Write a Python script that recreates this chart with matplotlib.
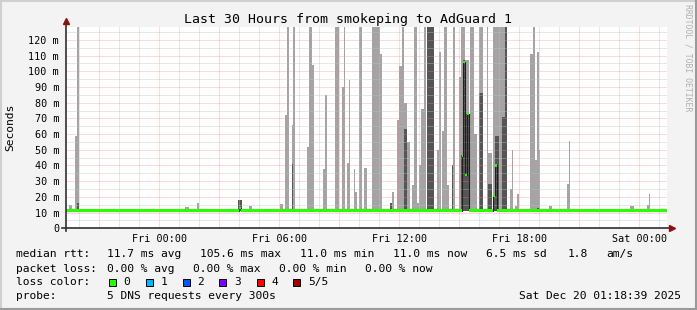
import matplotlib
matplotlib.use('Agg')
import matplotlib.pyplot as plt
import numpy as np
from matplotlib.ticker import MultipleLocator, FuncFormatter
from matplotlib.patches import Rectangle
from matplotlib.lines import Line2D

plt.rcParams['font.family'] = ['DejaVu Sans Mono']

# time in hours relative to Fri 00:00, values in ms
t_start, t_end = -4.665, 25.36

spike_start = [-4.50, -4.215, -4.10, 0.535, 1.285, 1.87, 3.95, 4.50, 6.035, 6.285,
               6.385, 6.62, 6.70, 7.37, 7.50, 7.62, 8.20, 8.30, 8.785, 9.135,
               9.235, 9.37, 9.47, 9.735, 9.80, 9.985, 10.235, 10.635, 11.035, 11.535,
               11.635, 11.87, 12.00, 12.135, 12.235, 12.37, 12.62, 12.75, 12.87, 13.00,
               13.10, 13.235, 13.37, 13.87, 14.00, 14.12, 14.235, 14.37, 14.62, 14.70,
               14.97, 15.07, 15.17, 15.285, 15.385, 15.535, 15.735, 16.00, 16.37, 16.45,
               16.67, 16.785, 16.985, 17.12, 17.285, 17.535, 17.635, 17.785, 17.885, 18.535,
               18.67, 18.785, 18.885, 18.985, 19.50, 20.37, 20.50, 23.535, 24.37, 24.47]
spike_end = [-4.36, -4.10, -4.015, 0.62, 1.47, 2.00, 4.12, 4.62, 6.20, 6.385,
             6.485, 6.70, 6.80, 7.50, 7.62, 7.735, 8.30, 8.385, 8.97, 9.235,
             9.30, 9.47, 9.535, 9.80, 9.90, 10.12, 10.37, 11.035, 11.135, 11.635,
             11.735, 12.00, 12.135, 12.235, 12.37, 12.535, 12.75, 12.87, 13.00, 13.10,
             13.235, 13.335, 13.735, 14.00, 14.07, 14.235, 14.37, 14.50, 14.70, 14.80,
             15.07, 15.17, 15.285, 15.385, 15.485, 15.735, 15.885, 16.17, 16.45, 16.635,
             16.785, 16.985, 17.12, 17.285, 17.40, 17.635, 17.70, 17.885, 18.00, 18.67,
             18.785, 18.885, 18.985, 19.05, 19.62, 20.50, 20.55, 23.735, 24.47, 24.535]
# outer smoke (max ping), 140 = off the top of the graph
smoke_max = [14.8, 58.8, 140, 12.5, 13.5, 16, 18, 14.4, 15.3, 72,
             140, 66, 140, 52, 140, 104, 37.8, 85, 140, 90,
             140, 41.8, 94.5, 37.8, 23, 140, 38.6, 140, 111, 16,
             23, 69, 103.6, 140, 80, 55, 27.6, 140, 16, 40,
             76, 140, 140, 50, 112, 62, 140, 27.6, 40, 140,
             96.6, 140, 140, 107, 107, 140, 60, 140, 140, 48,
             140, 140, 140, 140, 140, 25, 50, 14.5, 22, 111,
             140, 43.5, 112.5, 50, 14, 28, 55.6, 14, 15, 21.8]
# inner smoke (4th ping), 0 = hidden under the median
smoke_inner = [0, 12, 16.3, 0, 0, 0, 18, 0, 0, 0,
               0, 41, 0, 0, 0, 0, 0, 0, 0, 0,
               0, 0, 0, 0, 0, 0, 0, 0, 0, 16,
               0, 0, 0, 0, 63, 0, 0, 0, 0, 0,
               0, 0, 140, 0, 0, 0, 0, 0, 40, 0,
               0, 46.6, 107, 73, 73, 0, 0, 86, 0, 28,
               22, 59, 0, 71, 140, 0, 0, 0, 0, 0,
               0, 0, 13, 0, 0, 0, 0, 0, 0, 0]
smoke_min = 11.0

med_t = [t_start, 3.98, 4.06, 15.12, 15.20, 15.285, 15.37, 15.47, 16.70, 16.80, 16.885, t_end]
med_v = [11.2, 13.0, 11.2, 46.0, 106.0, 34.0, 73.0, 11.2, 21.0, 40.0, 11.2, 11.2]
band = 0.85

title = 'Last 30 Hours from smokeping to AdGuard 1'
loss_labels = ['0', '1', '2', '3', '4', '5/5']
loss_colors = ['#26ff00', '#00b8ff', '#0059ff', '#7e00ff', '#ff0000', '#a00000']

W, H = 697, 310
fig = plt.figure(figsize=(W / 100, H / 100), dpi=100, facecolor='#f3f3f3')


def fx(x):
    return x / W


def fy(y):
    return 1 - y / H


ax = fig.add_axes([fx(66), fy(228.3), fx(666.5) - fx(66), fy(27) - fy(228.3)])
ax.set_facecolor('white')

s = np.array(spike_start)
e = np.array(spike_end)
hi = np.array(smoke_max)
inner = np.array(smoke_inner)
ax.bar(s, hi - smoke_min, width=e - s, bottom=smoke_min, align='edge',
       color='#a4a4a4', linewidth=0, zorder=1)
m = inner > 0
ax.bar(s[m], inner[m] - smoke_min, width=(e - s)[m], bottom=smoke_min, align='edge',
       color='#555555', linewidth=0, zorder=1.1)

mt = np.array(med_t)
mv = np.array(med_v)
ax.step(mt, mv, where='post', color='#202020', lw=0.8, zorder=2.8)
ax.fill_between(mt, mv - band, mv + band, step='post', color=loss_colors[0], lw=0, zorder=3)

ax.set_xlim(t_start, t_end)
ax.set_ylim(0, 128.2)

days = ['Thu', 'Fri', 'Sat']


def xfmt(v, p):
    if round(v) % 6 != 0:
        return ''
    return f'{days[int(v // 24) + 1]} {int(v % 24):02d}:00'


ax.xaxis.set_major_locator(MultipleLocator(3))
ax.xaxis.set_minor_locator(MultipleLocator(1))
ax.xaxis.set_major_formatter(FuncFormatter(xfmt))
ax.yaxis.set_major_locator(MultipleLocator(10))
ax.yaxis.set_minor_locator(MultipleLocator(5))
ax.yaxis.set_major_formatter(FuncFormatter(lambda v, p: '0' if v == 0 else f'{int(v)} m'))
ax.tick_params(which='both', length=0, labelsize=7.3)
ax.tick_params(axis='x', pad=4)
ax.tick_params(axis='y', pad=5)

ax.grid(which='major', color='#ff8080', alpha=0.6, linestyle=(0, (1, 1)), lw=0.72)
ax.grid(which='minor', color='#c0c0c0', alpha=0.75, linestyle=(0, (1, 1)), lw=0.72)
ax.set_axisbelow('line')
for sp in ax.spines.values():
    sp.set_visible(False)

# axes with arrows
ax.plot([0, 0], [-0.012, 1.025], transform=ax.transAxes, color='#303030', lw=1.2, clip_on=False, zorder=5)
ax.plot([-0.006, 1.005], [0, 0], transform=ax.transAxes, color='#303030', lw=1.2, clip_on=False, zorder=5)
ax.plot([0], [1.03], marker='^', ms=5, color='#8b1010', transform=ax.transAxes, clip_on=False, zorder=6)
ax.plot([1.009], [0], marker='>', ms=5, color='#8b1010', transform=ax.transAxes, clip_on=False, zorder=6)

fig.text(0.5, fy(20), title, ha='center', va='center', fontsize=9.5)
fig.text(fx(10), fy(127), 'Seconds', rotation=90, ha='center', va='center', fontsize=8.1)
fig.text(fx(688), fy(4), 'RRDTOOL / TOBI OETIKER', rotation=-90, ha='center', va='top',
         fontsize=5.9, color='#b0b0b0')

fs = 8.1
rows = [254, 268.5, 282, 296]
legend_row1 = [(16, 'median rtt:'), (107, '11.7 ms avg'), (200, '105.6 ms max'), (300, '11.0 ms min'),
               (393, '11.0 ms now'), (486, '6.5 ms sd'), (568, '1.8'), (606, 'am/s')]
legend_row2 = [(16, 'packet loss:'), (107, '0.00 % avg'), (193, '0.00 % max'), (279, '0.00 % min'),
               (365, '0.00 % now')]
for x, t in legend_row1:
    fig.text(fx(x), fy(rows[0]), t, ha='left', va='center', fontsize=fs)
for x, t in legend_row2:
    fig.text(fx(x), fy(rows[1]), t, ha='left', va='center', fontsize=fs)

fig.text(fx(16), fy(rows[2]), 'loss color:', ha='left', va='center', fontsize=fs)
box_x = [108.7, 146, 182.7, 219.3, 256.7, 293.3]
for bx, lab, col in zip(box_x, loss_labels, loss_colors):
    fig.add_artist(Rectangle((fx(bx), fy(rows[2] + 3.5)), 7 / W, 7 / H, transform=fig.transFigure,
                             facecolor=col, edgecolor='black', lw=0.7))
    fig.text(fx(bx + 14.5), fy(rows[2]), lab, ha='left', va='center', fontsize=fs)

fig.text(fx(16), fy(rows[3]), 'probe:', ha='left', va='center', fontsize=fs)
fig.text(fx(107), fy(rows[3]), '5 DNS requests every 300s', ha='left', va='center', fontsize=fs)
fig.text(fx(681), fy(rows[3]), 'Sat Dec 20 01:18:39 2025', ha='right', va='center', fontsize=fs)

# 3d-ish frame of the rrdtool image
fig.add_artist(Line2D([0, 1], [fy(0.5), fy(0.5)], transform=fig.transFigure, color='#d0d0d0', lw=1.5))
fig.add_artist(Line2D([fx(0.5), fx(0.5)], [0, 1], transform=fig.transFigure, color='#d0d0d0', lw=1.5))
fig.add_artist(Line2D([fx(696), fx(696)], [0, 1], transform=fig.transFigure, color='#9a9a9a', lw=1.5))
fig.add_artist(Line2D([0, 1], [fy(309), fy(309)], transform=fig.transFigure, color='#9a9a9a', lw=1.5))

fig.savefig('out.png', dpi=100, facecolor=fig.get_facecolor())
